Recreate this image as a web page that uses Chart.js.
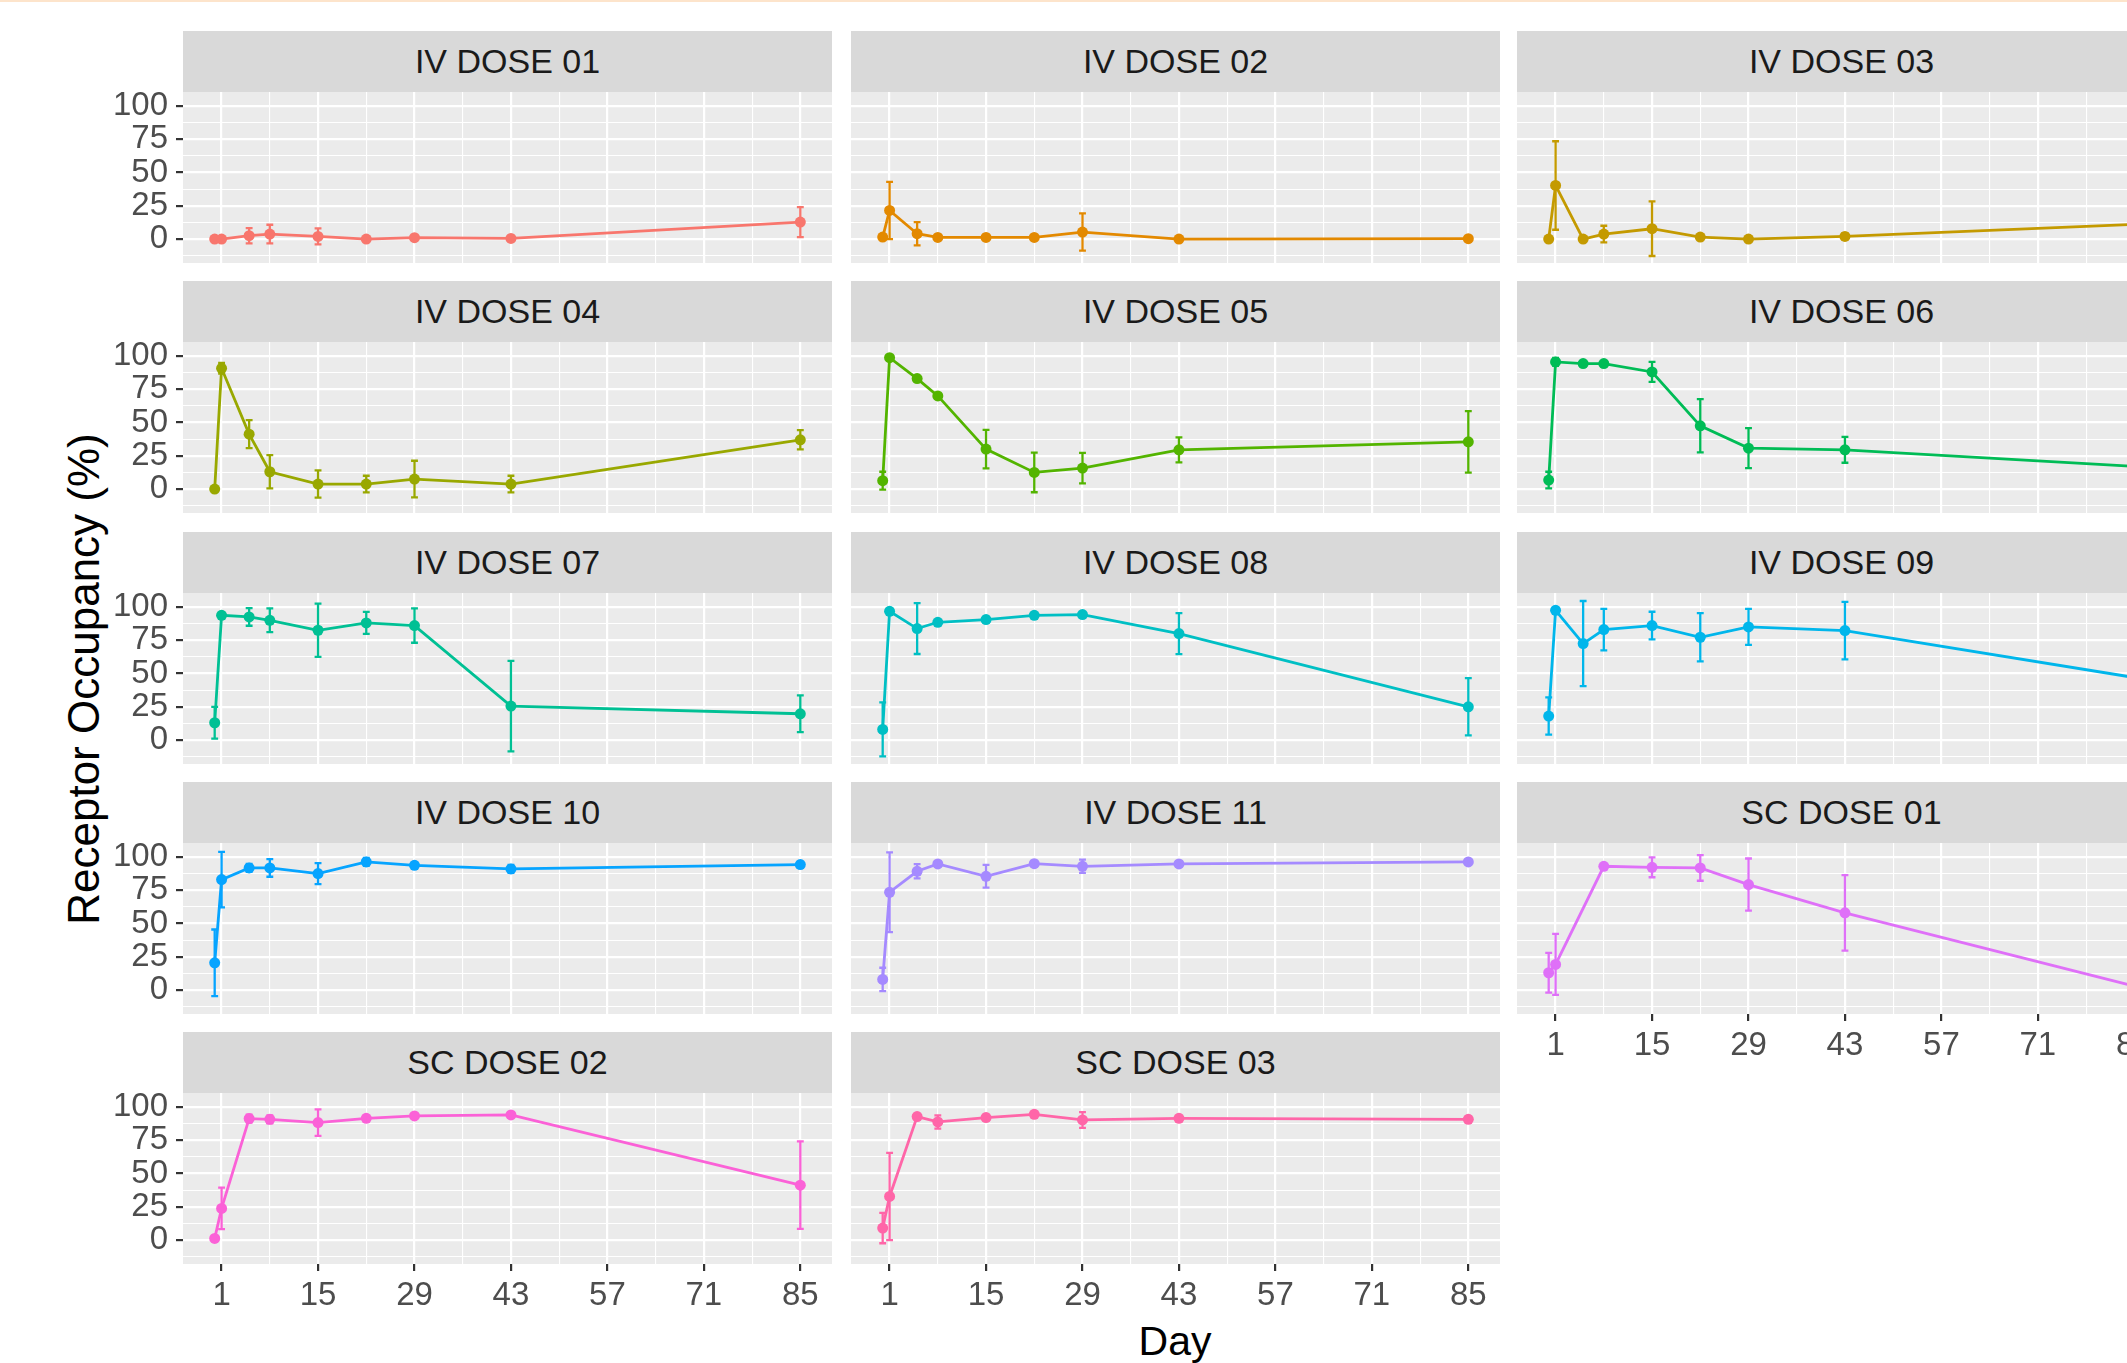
<!DOCTYPE html>
<html>
<head>
<meta charset="utf-8">
<script src="https://cdn.jsdelivr.net/npm/chart.js@4.4.1/dist/chart.umd.min.js"></script>
<style>
    body {
        margin: 0;
        width: 2127px;
        height: 1363px;
        overflow: hidden;
        background: #fff;
        position: relative;
        font-family: "Liberation Sans", Arial, sans-serif;
    }
    .top-line { position: absolute; left: 0; top: 0; width: 100%; height: 2px; background: #FDE4CB; }
    .strip {
        position: absolute;
        height: 61px;
        line-height: 61px;
        background: #D9D9D9;
        color: #1A1A1A;
        font-size: 34px;
        text-align: center;
        white-space: nowrap;
    }
    .panel { position: absolute; }
    #ytitle {
        position: absolute;
        left: 84px;
        top: 679px;
        transform: translate(-50%, -50%) rotate(-90deg);
        font-size: 44px;
        line-height: 1;
        white-space: nowrap;
        color: #000;
    }
    #xtitle {
        position: absolute;
        left: 1175px;
        top: 1321px;
        transform: translateX(-50%);
        font-size: 41px;
        line-height: 1;
        color: #000;
    }
</style>
</head>
<body>
<div class="top-line"></div>
<div id="ytitle">Receptor Occupancy (%)</div>
<div id="xtitle">Day</div>

<script>
// Study days and facets
const DAYS = [0, 1, 5, 8, 15, 22, 29, 43, 85];
const PANELS = ['IV DOSE 01', 'IV DOSE 02', 'IV DOSE 03', 'IV DOSE 04', 'IV DOSE 05', 'IV DOSE 06',
    'IV DOSE 07', 'IV DOSE 08', 'IV DOSE 09', 'IV DOSE 10', 'IV DOSE 11',
    'SC DOSE 01', 'SC DOSE 02', 'SC DOSE 03'];
const COLORS = ['#F8766D', '#E38900', '#C49A00', '#99A800', '#53B400', '#00BC56', '#00C094',
    '#00BFC4', '#00B6EB', '#06A4FF', '#A58AFF', '#DF70F8', '#FB61D7', '#FF66A8'];

// Mean receptor occupancy (%) per day, and SD (error bar half-width)
const MEAN_IV01 = [0, 0, 2.5, 3.75, 2, 0, 1, 0.5, 12.75];
const SD_IV01 = [null, null, 5.75, 7, 6, null, null, null, 11.25];
const MEAN_IV02 = [1.5, 21.5, 4, 1.25, 1.25, 1.25, 5.25, 0, 0.25];
const SD_IV02 = [null, 21.5, 8.75, null, null, null, 14, null, null];
const MEAN_IV03 = [0, 40.25, 0, 3.75, 7.75, 1.5, 0, 2, 11];
const SD_IV03 = [null, 33.25, null, 6.25, 20.5, null, null, 2.5, null];
const MEAN_IV04 = [0, 90.75, 41.25, 13, 3.75, 3.75, 7.5, 3.75, 37];
const SD_IV04 = [null, 4, 10.5, 12.5, 10.25, 6.25, 13.75, 6.25, 7.25];
const MEAN_IV05 = [6.25, 98.75, 83, 70, 30, 12.5, 15.75, 29.5, 35.5];
const SD_IV05 = [6.75, null, null, null, 14.5, 14.9, 11.5, 9.4, 23.1];
const MEAN_IV06 = [6.75, 95.5, 94.25, 94.25, 88, 47.5, 30.75, 29.5, 17];
const SD_IV06 = [6.25, 3, null, null, 7.5, 20, 15, 9.75, null];
const MEAN_IV07 = [13, 93.75, 92.5, 90, 82.5, 88, 86, 25.5, 19.75];
const SD_IV07 = [12, 2, 6.6, 8.9, 20, 8.25, 12.9, 34, 13.75];
const MEAN_IV08 = [8, 96.75, 83.75, 88.5, 90.5, 93.75, 94.25, 80, 25];
const SD_IV08 = [20.25, null, 19.1, null, 2, null, null, 15.4, 21.5];
const MEAN_IV09 = [18, 97.5, 72.5, 83, 86, 77.25, 85, 82.25, 47];
const SD_IV09 = [14, 2, 32, 15.6, 10.4, 18.1, 13.5, 21.6, null];
const MEAN_IV10 = [20.5, 83, 91.75, 91.75, 87.5, 96.25, 93.75, 91, 94.25];
const SD_IV10 = [25, 20.9, 3, 6.6, 7.9, 3, 2, 3, 2];
const MEAN_IV11 = [8, 73.5, 89.25, 94.75, 85.5, 95, 93, 94.75, 96.25];
const SD_IV11 = [8.75, 30, 5.4, 2, 8.6, 2, 5, 2, null];
const MEAN_SC01 = [13, 19.25, null, 93, 92.25, 91.75, 79.25, 58, 3];
const SD_SC01 = [15, 22.9, null, null, 7.5, 9.6, 19.6, 28.4, null];
const MEAN_SC02 = [1.25, 23.75, 91.25, 90.75, 88.25, 91.5, 93.25, 94, 41.25];
const SD_SC02 = [null, 15.6, 3, 3, 10, 2, 2, 2, 32.9];
const MEAN_SC03 = [9, 32.75, 92.75, 88.75, 92, 94.5, 90.25, 91.5, 90.75];
const SD_SC03 = [11.4, 32.75, 2, 5, 2, 2, 5.9, 2, 2];

const MEANS = [MEAN_IV01, MEAN_IV02, MEAN_IV03, MEAN_IV04, MEAN_IV05, MEAN_IV06, MEAN_IV07,
    MEAN_IV08, MEAN_IV09, MEAN_IV10, MEAN_IV11, MEAN_SC01, MEAN_SC02, MEAN_SC03];
const SDS = [SD_IV01, SD_IV02, SD_IV03, SD_IV04, SD_IV05, SD_IV06, SD_IV07,
    SD_IV08, SD_IV09, SD_IV10, SD_IV11, SD_SC01, SD_SC02, SD_SC03];

// Axis ticks
const X_TICKS = [1, 15, 29, 43, 57, 71, 85];
const X_MINOR = [8, 22, 36, 50, 64, 78];
const Y_TICKS = [0, 25, 50, 75, 100];
const Y_MINOR = [-12.5, 12.5, 37.5, 62.5, 87.5];
const X_MIN = -4.6, X_MAX = 89.6;
const Y_MIN = -18, Y_MAX = 110.5;

// Layout (px)
const PANEL_W = 649, PANEL_H = 171, STRIP_H = 61;
const COL_X = [183, 851, 1517];
const ROW_Y = [31, 281, 532, 782, 1032];
const Y_AXIS_W = 90, X_AXIS_H = 56;
const CAP = 0.5;
const FONT = '"Liberation Sans", Arial, sans-serif';

// Grey panel background
const panelBg = {
    id: 'panelBg',
    beforeDraw(chart) {
        const { ctx, chartArea: a } = chart;
        ctx.save();
        ctx.fillStyle = '#EBEBEB';
        ctx.fillRect(a.left, a.top, a.right - a.left, a.bottom - a.top);
        ctx.restore();
    }
};

// mean +/- SD error bars
const errorBars = {
    id: 'errorBars',
    beforeDatasetsDraw(chart) {
        const { ctx, scales: { x, y } } = chart;
        const ds = chart.data.datasets[0];
        ctx.save();
        ctx.strokeStyle = ds.borderColor;
        ctx.lineWidth = 2.3;
        ctx.beginPath();
        ds.data.forEach(p => {
            if (p.sd == null) return;
            const px = x.getPixelForValue(p.x);
            const lo = y.getPixelForValue(p.y - p.sd);
            const hi = y.getPixelForValue(p.y + p.sd);
            const l = x.getPixelForValue(p.x - CAP);
            const r = x.getPixelForValue(p.x + CAP);
            ctx.moveTo(px, lo); ctx.lineTo(px, hi);
            ctx.moveTo(l, lo); ctx.lineTo(r, lo);
            ctx.moveTo(l, hi); ctx.lineTo(r, hi);
        });
        ctx.stroke();
        ctx.restore();
    }
};

const isMajor = (list, v) => list.includes(v);

PANELS.forEach((name, i) => {
    const col = i % 3, row = Math.floor(i / 3);
    const showY = col === 0;
    const showX = i >= PANELS.length - 3;

    const strip = document.createElement('div');
    strip.className = 'strip';
    strip.style.left = COL_X[col] + 'px';
    strip.style.top = ROW_Y[row] + 'px';
    strip.style.width = PANEL_W + 'px';
    strip.textContent = name;
    document.body.appendChild(strip);

    const w = PANEL_W + (showY ? Y_AXIS_W : 0);
    const h = PANEL_H + (showX ? X_AXIS_H : 0);
    const box = document.createElement('div');
    box.className = 'panel';
    box.style.left = (COL_X[col] - (showY ? Y_AXIS_W : 0)) + 'px';
    box.style.top = (ROW_Y[row] + STRIP_H) + 'px';
    const canvas = document.createElement('canvas');
    canvas.width = w;
    canvas.height = h;
    box.appendChild(canvas);
    document.body.appendChild(box);

    const points = DAYS.map((d, k) => ({ x: d, y: MEANS[i][k], sd: SDS[i][k] }))
        .filter(p => p.y !== null);

    new Chart(canvas.getContext('2d'), {
        type: 'line',
        data: {
            datasets: [{
                data: points,
                borderColor: COLORS[i],
                backgroundColor: COLORS[i],
                borderWidth: 2.8,
                pointRadius: 5.5,
                pointBorderWidth: 0,
                pointHoverRadius: 5.5,
                tension: 0
            }]
        },
        options: {
            responsive: false,
            animation: false,
            events: [],
            layout: { padding: 0, autoPadding: false },
            plugins: {
                legend: { display: false },
                tooltip: { enabled: false }
            },
            scales: {
                x: {
                    type: 'linear',
                    min: X_MIN,
                    max: X_MAX,
                    afterBuildTicks: s => {
                        s.ticks = X_TICKS.concat(X_MINOR).sort((a, b) => a - b).map(v => ({ value: v }));
                    },
                    afterFit: s => {
                        s.height = showX ? X_AXIS_H : 0;
                        s.paddingLeft = 0; s.paddingRight = 0;
                    },
                    border: { display: false },
                    grid: {
                        color: '#FFFFFF',
                        lineWidth: ctx => isMajor(X_TICKS, ctx.tick.value) ? 2.2 : 1.1,
                        drawTicks: showX,
                        tickLength: 7,
                        tickWidth: 2.2,
                        tickColor: ctx => isMajor(X_TICKS, ctx.tick.value) ? '#333333' : 'rgba(0,0,0,0)'
                    },
                    ticks: {
                        display: showX,
                        autoSkip: false,
                        maxRotation: 0,
                        padding: 5,
                        color: '#4D4D4D',
                        font: { family: FONT, size: 33 },
                        callback: v => isMajor(X_TICKS, v) ? String(v) : ''
                    }
                },
                y: {
                    type: 'linear',
                    min: Y_MIN,
                    max: Y_MAX,
                    afterBuildTicks: s => {
                        s.ticks = Y_TICKS.concat(Y_MINOR).sort((a, b) => a - b).map(v => ({ value: v }));
                    },
                    afterFit: s => {
                        s.width = showY ? Y_AXIS_W : 0;
                        s.paddingTop = 0; s.paddingBottom = 0;
                    },
                    border: { display: false },
                    grid: {
                        color: '#FFFFFF',
                        lineWidth: ctx => isMajor(Y_TICKS, ctx.tick.value) ? 2.2 : 1.1,
                        drawTicks: showY,
                        tickLength: 7,
                        tickWidth: 2.2,
                        tickColor: ctx => isMajor(Y_TICKS, ctx.tick.value) ? '#333333' : 'rgba(0,0,0,0)'
                    },
                    ticks: {
                        display: showY,
                        autoSkip: false,
                        padding: 8,
                        color: '#4D4D4D',
                        font: { family: FONT, size: 33 },
                        callback: v => isMajor(Y_TICKS, v) ? String(v) : ''
                    }
                }
            }
        },
        plugins: [panelBg, errorBars]
    });
});
</script>
</body>
</html>
